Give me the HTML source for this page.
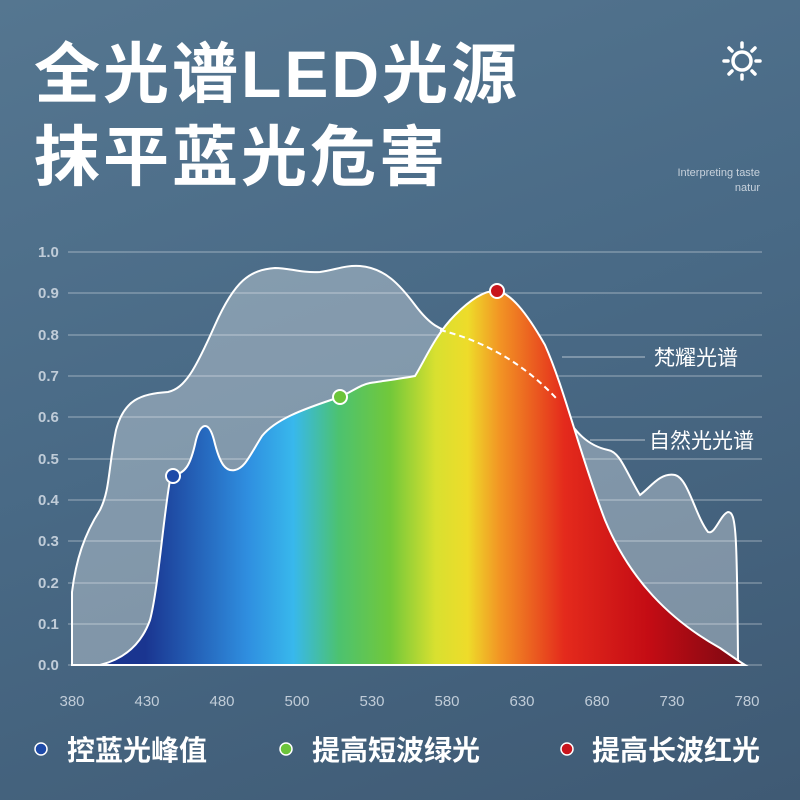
<!DOCTYPE html>
<html><head><meta charset="utf-8"><style>
html,body{margin:0;padding:0;width:800px;height:800px;overflow:hidden}
body{background:linear-gradient(160deg,#557690 0%,#496a86 45%,#3f5a74 100%);font-family:"Liberation Sans","Noto Sans CJK SC",sans-serif;position:relative}
.t{position:absolute;left:34px;color:#fff;font-weight:bold;font-size:66px;line-height:1;letter-spacing:3px;font-family:"Liberation Sans","Noto Sans CJK SC",sans-serif}
</style></head><body>
<div class="t" style="top:41px">全光谱LED光源</div>
<div class="t" style="top:124px">抹平蓝光危害</div>
<svg width="800" height="800" style="position:absolute;left:0;top:0" font-family="Liberation Sans, Noto Sans CJK SC, sans-serif">
<defs>
<linearGradient id="sp" x1="100" x2="745" y1="0" y2="0" gradientUnits="userSpaceOnUse">
<stop offset="0.07" stop-color="#1a3590"/>
<stop offset="0.23" stop-color="#2f8fe0"/>
<stop offset="0.3" stop-color="#38b8ec"/>
<stop offset="0.37" stop-color="#4cc270"/>
<stop offset="0.45" stop-color="#72c83a"/>
<stop offset="0.52" stop-color="#d8e030"/>
<stop offset="0.57" stop-color="#eedc2a"/>
<stop offset="0.62" stop-color="#f29424"/>
<stop offset="0.72" stop-color="#e42a1c"/>
<stop offset="0.85" stop-color="#c40c14"/>
<stop offset="1" stop-color="#7a0812"/>
</linearGradient>
</defs>
<g stroke="#fff" stroke-width="3.5" fill="none" stroke-linecap="round">
<circle cx="742" cy="61" r="9"/>
<line x1="742" y1="43" x2="742" y2="47"/><line x1="742" y1="75" x2="742" y2="79"/>
<line x1="724" y1="61" x2="728" y2="61"/><line x1="756" y1="61" x2="760" y2="61"/>
<line x1="729" y1="48" x2="732" y2="51"/><line x1="752" y1="71" x2="755" y2="74"/>
<line x1="755" y1="48" x2="752" y2="51"/><line x1="729" y1="74" x2="732" y2="71"/>
</g>
<text x="760" y="176" fill="#c8d2dc" font-size="11" text-anchor="end">Interpreting taste</text>
<text x="760" y="191" fill="#c8d2dc" font-size="11" text-anchor="end">natur</text>
<g stroke="#ffffff" stroke-opacity="0.3" stroke-width="1.5">
<line x1="68" x2="762" y1="252" y2="252"/><line x1="68" x2="762" y1="293" y2="293"/>
<line x1="68" x2="762" y1="335" y2="335"/><line x1="68" x2="762" y1="376" y2="376"/>
<line x1="68" x2="762" y1="417" y2="417"/><line x1="68" x2="762" y1="459" y2="459"/>
<line x1="68" x2="762" y1="500" y2="500"/><line x1="68" x2="762" y1="541" y2="541"/>
<line x1="68" x2="762" y1="583" y2="583"/><line x1="68" x2="762" y1="624" y2="624"/>
<line x1="68" x2="762" y1="665" y2="665"/>
</g>
<g fill="#c0ccd8" font-size="15" font-weight="bold">
<text x="38" y="257">1.0</text><text x="38" y="298">0.9</text><text x="38" y="340">0.8</text>
<text x="38" y="381">0.7</text><text x="38" y="422">0.6</text><text x="38" y="464">0.5</text>
<text x="38" y="505">0.4</text><text x="38" y="546">0.3</text><text x="38" y="588">0.2</text>
<text x="38" y="629">0.1</text><text x="38" y="670">0.0</text>
</g>
<g fill="#c0ccd8" font-size="15" text-anchor="middle">
<text x="72" y="706">380</text><text x="147" y="706">430</text><text x="222" y="706">480</text>
<text x="297" y="706">500</text><text x="372" y="706">530</text><text x="447" y="706">580</text>
<text x="522" y="706">630</text><text x="597" y="706">680</text><text x="672" y="706">730</text>
<text x="747" y="706">780</text>
</g>
<path d="M72,665 L72,592 C76,560 84,535 100,510 C110,490 108,470 116,430 C124,400 140,394 168,392 C185,388 195,370 215,325 C235,280 250,270 275,268 C290,268 300,273 320,272 C335,270 345,265 360,266 C385,268 400,285 415,305 C430,325 440,330 455,333 C490,345 530,385 560,410 C575,430 585,445 608,450 C620,452 625,470 640,495 C650,488 660,472 675,475 C688,478 695,515 708,532 C715,535 720,515 728,512 C736,512 737,530 738,660 L738,665 Z" fill="#ffffff" fill-opacity="0.32" stroke="#fff" stroke-width="2"/>
<path d="M100,665 C120,660 140,648 150,620 C158,590 163,520 170,480 L173,476 C185,472 190,468 196,440 C200,425 208,418 214,440 C220,465 226,472 235,470 C245,468 250,455 262,436 C275,420 300,410 340,397 C355,390 360,385 370,383 C390,380 405,378 415,376 C425,360 435,335 455,315 C470,300 485,290 497,291 C510,293 525,310 545,345 C565,390 580,455 605,520 C630,580 670,620 720,648 C730,655 740,662 745,665 Z" fill="url(#sp)" stroke="#fff" stroke-width="2"/>
<path d="M440,330 C480,340 520,360 556,398" fill="none" stroke="#fff" stroke-width="2" stroke-dasharray="6,4"/>
<line x1="562" y1="357" x2="645" y2="357" stroke="#fff" stroke-opacity="0.6" stroke-width="1"/>
<line x1="590" y1="440" x2="645" y2="440" stroke="#fff" stroke-opacity="0.6" stroke-width="1"/>
<text x="654" y="365" fill="#fff" font-size="21">梵耀光谱</text>
<text x="649" y="448" fill="#fff" font-size="21">自然光光谱</text>
<circle cx="173" cy="476" r="7" fill="#1e4aa8" stroke="#fff" stroke-width="2"/>
<circle cx="340" cy="397" r="7" fill="#6cc43a" stroke="#fff" stroke-width="2"/>
<circle cx="497" cy="291" r="7" fill="#c8141c" stroke="#fff" stroke-width="2"/>
<circle cx="41" cy="749" r="6" fill="#1e4aa8" stroke="#fff" stroke-width="1.5"/>
<circle cx="286" cy="749" r="6" fill="#6cc43a" stroke="#fff" stroke-width="1.5"/>
<circle cx="567" cy="749" r="6" fill="#c8141c" stroke="#fff" stroke-width="1.5"/>
<g fill="#fff" font-size="28" font-weight="bold">
<text x="67" y="760">控蓝光峰值</text>
<text x="312" y="760">提高短波绿光</text>
<text x="592" y="760">提高长波红光</text>
</g>
</svg>
</body></html>
